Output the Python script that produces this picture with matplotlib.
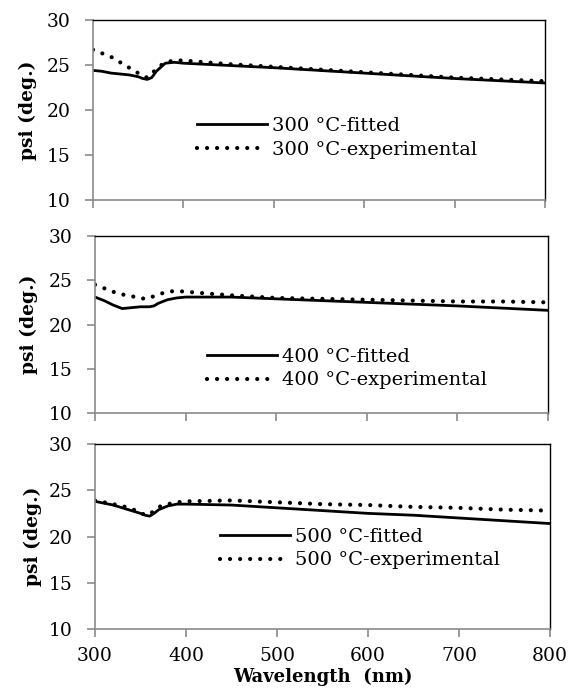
import matplotlib
matplotlib.use("Agg")
import matplotlib.pyplot as plt
import numpy as np

plt.rcParams['font.family'] = ['DejaVu Serif']

wavelength = [300, 310, 320, 330, 340, 350, 355, 360, 365, 370, 380, 390, 400,
              450, 500, 550, 600, 650, 700, 750, 800]

fit_300 = [24.4, 24.3, 24.1, 24.0, 23.9, 23.7, 23.5, 23.4, 23.6, 24.3, 25.2, 25.3, 25.2,
           24.95, 24.7, 24.4, 24.1, 23.8, 23.5, 23.25, 23.0]
exp_300 = [26.7, 26.3, 25.9, 25.3, 24.7, 24.1, 23.8, 23.6, 24.0, 24.6, 25.3, 25.5, 25.5,
           25.1, 24.8, 24.5, 24.2, 23.9, 23.6, 23.4, 23.2]

fit_400 = [23.1, 22.7, 22.2, 21.8, 21.9, 22.0, 22.0, 22.0, 22.1, 22.4, 22.8, 23.0, 23.1,
           23.1, 22.9, 22.7, 22.5, 22.3, 22.1, 21.85, 21.6]
exp_400 = [24.5, 24.1, 23.7, 23.4, 23.2, 23.0, 22.9, 23.0, 23.2, 23.4, 23.7, 23.8, 23.7,
           23.3, 23.0, 22.9, 22.8, 22.7, 22.6, 22.6, 22.5]

fit_500 = [23.8, 23.6, 23.4, 23.1, 22.8, 22.5, 22.3, 22.2, 22.5, 22.9, 23.3, 23.5, 23.5,
           23.4, 23.1, 22.8, 22.5, 22.3, 22.0, 21.7, 21.4]
exp_500 = [23.9, 23.7, 23.5, 23.3, 23.0, 22.6, 22.3, 22.4, 22.8, 23.2, 23.5, 23.7, 23.8,
           23.9, 23.7, 23.5, 23.4, 23.2, 23.1, 22.9, 22.8]

temps = ["300", "400", "500"]
fits = [fit_300, fit_400, fit_500]
exps = [exp_300, exp_400, exp_500]

W, H = 574, 699
fig = plt.figure(figsize=(W / 100, H / 100), dpi=100)

# axes boxes in pixels: left, right, top, bottom
boxes = [(93, 545, 20, 200), (95, 548, 236, 413), (95, 550, 444, 629)]
leg_pos = [(0.230, 0.344), (0.247, 0.251), (0.275, 0.435)]
ylab_x = [-0.124, -0.126, -0.117]

for i, (l, r, t, b) in enumerate(boxes):
    ax = fig.add_axes([l / W, 1 - b / H, (r - l) / W, (b - t) / H])
    ax.plot(wavelength, fits[i], color='black', lw=2.0, label=temps[i] + " \u00b0C-fitted")
    ax.plot(wavelength, exps[i], color='black', lw=3.0, linestyle=(0, (0.01, 2.4)),
            dash_capstyle='round', label=temps[i] + " \u00b0C-experimental")
    ax.set_xlim(300, 800)
    ax.set_ylim(10, 30)
    ax.set_xticks(np.arange(300, 801, 100))
    ax.set_yticks(np.arange(10, 31, 5))
    for s in ['top', 'right']:
        ax.spines[s].set_color('black')
        ax.spines[s].set_linewidth(1.0)
    for s in ['left', 'bottom']:
        ax.spines[s].set_color('#8a8a8a')
        ax.spines[s].set_linewidth(1.2)
    ax.tick_params(axis='both', color='#8a8a8a', width=1.2, length=6, direction='out',
                   labelsize=13.5)
    ax.tick_params(axis='y', pad=10)
    ax.tick_params(axis='x', pad=7)
    if i < 2:
        ax.tick_params(axis='x', labelbottom=False)
    else:
        ax.set_xlabel("Wavelength  (nm)", fontsize=13, fontweight='bold')
        ax.xaxis.set_label_coords(0.5, -0.21)
    ax.set_ylabel("psi (deg.)", fontsize=13.5, fontweight='bold')
    ax.yaxis.set_label_coords(ylab_x[i], 0.5)
    ax.legend(loc='center left', bbox_to_anchor=leg_pos[i], frameon=False, fontsize=14,
              handlelength=3.6, handletextpad=0.27, labelspacing=0.3,
              borderpad=0, borderaxespad=0)

fig.savefig("out.png", dpi=100)
